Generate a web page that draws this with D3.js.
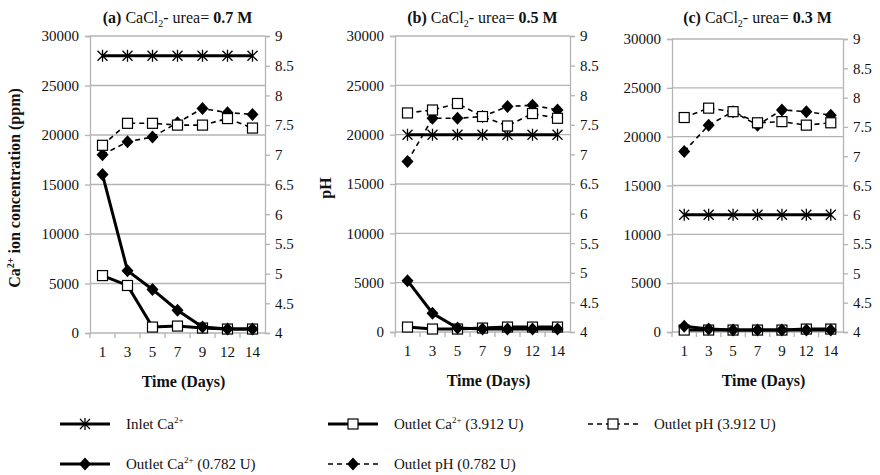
<!DOCTYPE html>
<html>
<head>
<meta charset="utf-8">
<script src="https://cdn.jsdelivr.net/npm/d3@7"></script>
<style>
  body { margin: 0; background: #fff; }
  svg text { font-family: "Liberation Serif", "Times New Roman", serif; fill: #111; }
</style>
</head>
<body>
<svg id="chart" width="880" height="475" font-family="'Liberation Serif', serif"></svg>
<script>
const days = ["1", "3", "5", "7", "9", "12", "14"];
const caTicks = [0, 5000, 10000, 15000, 20000, 25000, 30000];
const phTicks = [4, 4.5, 5, 5.5, 6, 6.5, 7, 7.5, 8, 8.5, 9];

// panel (a) 0.7 M
const inletA = [28000, 28000, 28000, 28000, 28000, 28000, 28000];
const caLowA = [16000, 6300, 4400, 2300, 600, 400, 400];
const caHighA = [5800, 4800, 600, 700, 500, 400, 400];
const phLowA = [7.00, 7.22, 7.30, 7.54, 7.78, 7.71, 7.68];
const phHighA = [7.16, 7.53, 7.53, 7.50, 7.50, 7.61, 7.45];

// panel (b) 0.5 M
const inletB = [20000, 20000, 20000, 20000, 20000, 20000, 20000];
const caLowB = [5200, 1900, 400, 300, 300, 300, 300];
const caHighB = [500, 300, 300, 400, 500, 500, 500];
const phLowB = [6.88, 7.61, 7.61, 7.64, 7.81, 7.83, 7.75];
const phHighB = [7.70, 7.75, 7.86, 7.64, 7.48, 7.69, 7.61];

// panel (c) 0.3 M
const inletC = [12000, 12000, 12000, 12000, 12000, 12000, 12000];
const caLowC = [600, 300, 200, 200, 200, 200, 200];
const caHighC = [200, 200, 200, 200, 200, 300, 300];
const phLowC = [7.08, 7.53, 7.76, 7.53, 7.79, 7.76, 7.70];
const phHighC = [7.66, 7.82, 7.76, 7.57, 7.59, 7.53, 7.57];

const panels = [
  { tag: "(a)", conc: "0.7 M", box: { left: 90, right: 265, top: 36, bottom: 333 },
    inlet: inletA, caLow: caLowA, caHigh: caHighA, phLow: phLowA, phHigh: phHighA },
  { tag: "(b)", conc: "0.5 M", box: { left: 395, right: 570, top: 36, bottom: 332 },
    inlet: inletB, caLow: caLowB, caHigh: caHighB, phLow: phLowB, phHigh: phHighB },
  { tag: "(c)", conc: "0.3 M", box: { left: 672, right: 843, top: 39, bottom: 332 },
    inlet: inletC, caLow: caLowC, caHigh: caHighC, phLow: phLowC, phHigh: phHighC },
];

const svg = d3.select("#chart");
const grid = "#b4b4b4";
const serif = "'Liberation Serif', 'Times New Roman', serif";

function drawMarker(g, kind, cx, cy) {
  if (kind === "diamond") {
    g.append("path").attr("d", `M${cx},${cy - 6.5}L${cx + 6},${cy}L${cx},${cy + 6.5}L${cx - 6},${cy}Z`).attr("fill", "#000");
  } else if (kind === "square") {
    g.append("rect").attr("x", cx - 5).attr("y", cy - 5).attr("width", 10).attr("height", 10)
      .attr("fill", "#fff").attr("stroke", "#000").attr("stroke-width", 1.2);
  } else if (kind === "star") {
    g.append("path").attr("d", `M${cx},${cy - 6}V${cy + 6}M${cx - 5},${cy - 5}L${cx + 5},${cy + 5}M${cx - 5},${cy + 5}L${cx + 5},${cy - 5}`)
      .attr("stroke", "#000").attr("stroke-width", 1.3);
  }
}

function addTitle(p) {
  const t = svg.append("text").attr("x", (p.box.left + p.box.right) / 2).attr("y", 23)
    .attr("text-anchor", "middle").style("font-size", "16px");
  t.append("tspan").attr("font-weight", "bold").text(p.tag + " ");
  t.append("tspan").text("CaCl");
  t.append("tspan").attr("dy", 4).style("font-size", "10px").text("2");
  t.append("tspan").attr("dy", -4).text("- urea= ");
  t.append("tspan").attr("font-weight", "bold").text(p.conc);
}

panels.forEach((p) => {
  const b = p.box;
  const x = d3.scaleBand().domain(days).range([b.left, b.right]);
  const yCa = d3.scaleLinear().domain([0, 30000]).range([b.bottom, b.top]);
  const yPh = d3.scaleLinear().domain([4, 9]).range([b.bottom, b.top]);
  const cx = (d) => x(d) + x.bandwidth() / 2;

  // gridlines
  svg.append("g").selectAll("line").data(caTicks.slice(1)).join("line")
    .attr("x1", b.left).attr("x2", b.right).attr("y1", (d) => yCa(d)).attr("y2", (d) => yCa(d))
    .attr("stroke", grid).attr("stroke-width", 1.3);

  // left axis
  svg.append("g").attr("transform", `translate(${b.left},0)`)
    .call(d3.axisLeft(yCa).tickValues(caTicks).tickSize(5).tickPadding(6).tickFormat(d3.format("d")))
    .attr("font-family", serif).attr("font-size", 15)
    .call((a) => a.selectAll("path,line").attr("stroke", grid).attr("stroke-width", 1.3))
    .call((a) => a.selectAll("text").attr("fill", "#111"));

  // right axis
  svg.append("g").attr("transform", `translate(${b.right},0)`)
    .call(d3.axisRight(yPh).tickValues(phTicks).tickSize(5).tickPadding(5).tickFormat((d) => String(d)))
    .attr("font-family", serif).attr("font-size", 15)
    .call((a) => a.selectAll("path,line").attr("stroke", grid).attr("stroke-width", 1.3))
    .call((a) => a.selectAll("text").attr("fill", "#111"));

  // bottom axis with ticks between categories
  const xa = svg.append("g").attr("transform", `translate(0,${b.bottom})`);
  xa.append("line").attr("x1", b.left).attr("x2", b.right).attr("stroke", grid).attr("stroke-width", 1.3);
  xa.selectAll("line.tk").data(days).join("line").attr("class", "tk")
    .attr("x1", (d) => x(d)).attr("x2", (d) => x(d)).attr("y1", 0).attr("y2", 5)
    .attr("stroke", grid).attr("stroke-width", 1.3);
  xa.selectAll("text").data(days).join("text")
    .attr("x", cx).attr("y", 24).attr("text-anchor", "middle").style("font-size", "15px").text((d) => d);

  svg.append("text").attr("x", (b.left + b.right) / 2 + 6).attr("y", b.bottom + 54)
    .attr("text-anchor", "middle").attr("font-weight", "bold").style("font-size", "16px").text("Time (Days)");

  addTitle(p);

  const g = svg.append("g");
  const solid = d3.line().x((d, i) => cx(days[i]));
  const series = [
    { values: p.inlet, y: yCa, marker: "star", dash: null },
    { values: p.caHigh, y: yCa, marker: "square", dash: null },
    { values: p.caLow, y: yCa, marker: "diamond", dash: null },
    { values: p.phLow, y: yPh, marker: "diamond", dash: "5 4" },
    { values: p.phHigh, y: yPh, marker: "square", dash: "5 4" },
  ];
  series.forEach((s) => {
    g.append("path").attr("d", solid.y((d) => s.y(d))(s.values))
      .attr("fill", "none").attr("stroke", "#000")
      .attr("stroke-width", s.dash ? 1.6 : 3)
      .attr("stroke-dasharray", s.dash);
    s.values.forEach((v, i) => drawMarker(g, s.marker, cx(days[i]), s.y(v)));
  });
});

// axis titles
const yt = svg.append("text").attr("transform", "translate(20,188) rotate(-90)")
  .attr("text-anchor", "middle").attr("font-weight", "bold").style("font-size", "16px");
yt.append("tspan").text("Ca");
yt.append("tspan").attr("dy", -6).style("font-size", "10px").text("2+");
yt.append("tspan").attr("dy", 6).text(" ion concentration (ppm)");

svg.append("text").attr("transform", "translate(331,188) rotate(-90)")
  .attr("text-anchor", "middle").attr("font-weight", "bold").style("font-size", "16px").text("pH");

// legend
const legendItems = [
  { label: "Inlet Ca", sup: "2+", tail: "", marker: "star", dash: null, x: 60, y: 424 },
  { label: "Outlet Ca", sup: "2+", tail: " (3.912 U)", marker: "square", dash: null, x: 328, y: 424 },
  { label: "Outlet pH (3.912 U)", sup: "", tail: "", marker: "square", dash: "5 4", x: 588, y: 424 },
  { label: "Outlet Ca", sup: "2+", tail: " (0.782 U)", marker: "diamond", dash: null, x: 60, y: 464 },
  { label: "Outlet pH (0.782 U)", sup: "", tail: "", marker: "diamond", dash: "5 4", x: 328, y: 464 },
];
const lg = svg.append("g");
legendItems.forEach((it) => {
  lg.append("line").attr("x1", it.x).attr("x2", it.x + 50).attr("y1", it.y).attr("y2", it.y)
    .attr("stroke", "#000").attr("stroke-width", it.dash ? 1.6 : 3).attr("stroke-dasharray", it.dash);
  drawMarker(lg, it.marker, it.x + 25, it.y);
  const t = lg.append("text").attr("x", it.x + 66).attr("y", it.y + 5).style("font-size", "15px");
  t.append("tspan").text(it.label);
  if (it.sup) {
    t.append("tspan").attr("dy", -6).style("font-size", "9px").text(it.sup);
    t.append("tspan").attr("dy", 6).text(it.tail);
  }
});
</script>
</body>
</html>
